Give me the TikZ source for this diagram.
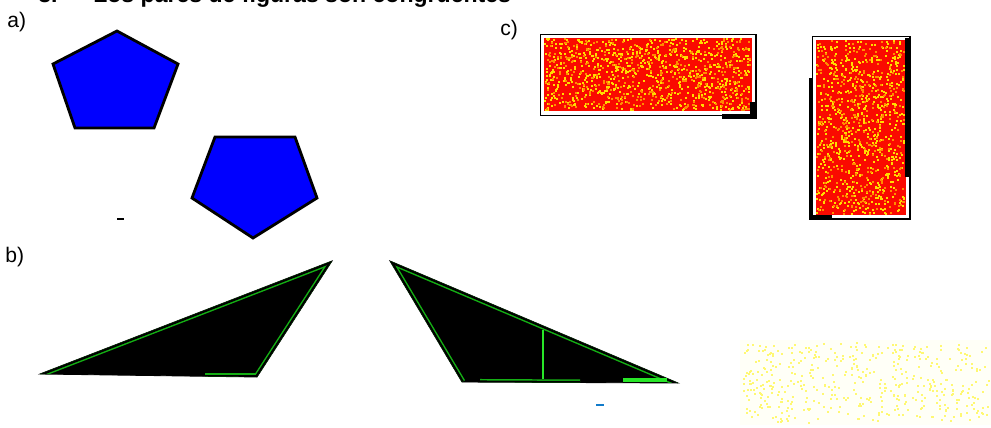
\documentclass[tikz,border=0pt]{standalone}
\usepackage{fontspec}
\setmainfont{Liberation Sans}
\definecolor{pentblue}{RGB}{0,0,255}
\definecolor{rectred}{RGB}{250,10,0}
\definecolor{speck}{RGB}{255,220,0}
\definecolor{speckorange}{RGB}{255,140,0}
\definecolor{trigreen}{RGB}{20,175,20}
\definecolor{brightgreen}{RGB}{40,230,40}
\begin{document}
\begin{tikzpicture}[x=0.025cm,y=-0.025cm,
  lbl/.style={font=\fontsize{15}{18}\selectfont, anchor=base west, inner sep=0},
  titlefont/.style={font=\bfseries\fontsize{16.4}{20}\selectfont, anchor=base west, inner sep=0},
  pent/.style={fill=pentblue, draw=black, line width=2pt, line join=miter},
  rectout/.style={draw=black, line width=1pt},
  tri/.style={fill=black, draw=black, line width=0.6pt, line join=miter},
  greenband/.style={draw=trigreen, line width=5pt},
  blackband/.style={draw=black, line width=2.9pt}]
\useasboundingbox (0,0) rectangle (991,427);
\clip (0,0) rectangle (991,427);

% title line (cut off at the top, as in the reference)
\node[titlefont] (num) at (38,3) {3.};
\node[titlefont] (title) at (93,3) {Los pares de figuras son congruentes};

% labels
\node[lbl] (la) at (7,28) {a)};
\node[lbl] (lb) at (5,262) {b)};
\node[lbl] (lc) at (500,36) {c)};

% a) pentagons
\draw[pent] (117,31) -- (178,64) -- (154,128) -- (75,128) -- (53,64) -- cycle;
\draw[pent] (215,137) -- (295,137) -- (317,198) -- (253,238) -- (192,198) -- cycle;
\draw[line width=1.2pt] (117,219) -- (124,219);

% c) rectangles
\fill[rectred] (544,38) rectangle (752,111);
\fill[rectred] (816,40) rectangle (906,215);
\pgfmathsetseed{11}
\foreach \i in {1,...,700}{
  \pgfmathsetmacro{\rx}{544+rnd*206}
  \pgfmathsetmacro{\ry}{38+rnd*71}
  \fill[speck] (\rx,\ry) rectangle ++(2,2);
}
\foreach \i in {1,...,400}{
  \pgfmathsetmacro{\rx}{544+rnd*206}
  \pgfmathsetmacro{\ry}{38+rnd*71}
  \fill[speckorange] (\rx,\ry) rectangle ++(2,2);
}
\foreach \i in {1,...,620}{
  \pgfmathsetmacro{\rx}{816+rnd*88}
  \pgfmathsetmacro{\ry}{40+rnd*173}
  \fill[speck] (\rx,\ry) rectangle ++(2,2);
}
\foreach \i in {1,...,350}{
  \pgfmathsetmacro{\rx}{816+rnd*88}
  \pgfmathsetmacro{\ry}{40+rnd*173}
  \fill[speckorange] (\rx,\ry) rectangle ++(2,2);
}
\draw[rectout] (540.5,34.5) rectangle (756,115.5);
\fill (722,114) rectangle (757,119);
\fill (750,102) rectangle (757,119);
\draw[rectout] (812.5,36.5) rectangle (910,219);
\fill (905,38) rectangle (911,177);
\fill (809,78) rectangle (813,220);
\fill (812,215) rectangle (832,220);

% b) triangles
\draw[tri] (40,374) -- (257,377) -- (332,261) -- cycle;
\begin{scope}
  \clip (40,374) -- (257,377) -- (332,261) -- cycle;
  \draw[greenband] (40,374) -- (332,261);
  \draw[greenband] (332,261) -- (257,377);
  \draw[greenband] (205,377) -- (257,377);
  \draw[blackband] (40,374) -- (332,261);
  \draw[blackband] (332,261) -- (257,377);
  \draw[blackband] (205,377) -- (257,377);
\end{scope}

\draw[tri] (390,261) -- (462,382) -- (678,383) -- cycle;
\begin{scope}
  \clip (390,261) -- (462,382) -- (678,383) -- cycle;
  \draw[greenband] (390,261) -- (462,382);
  \draw[greenband] (390,261) -- (678,383);
  \draw[greenband] (480,382.5) -- (580,383);
  \draw[blackband] (390,261) -- (462,382);
  \draw[blackband] (390,261) -- (678,383);
  \draw[blackband] (480,382.5) -- (580,383);
  \fill[brightgreen] (623,378) rectangle (667,382);
  \draw[brightgreen, line width=1.1pt] (543,330) -- (543,379);
\end{scope}
\draw[cyan!60!blue, line width=1.4pt] (596,405) -- (604,405);

% faint yellow patch
\fill[yellow!3] (740,340) rectangle (991,425);
\foreach \i in {1,...,450}{
  \pgfmathsetmacro{\rx}{742+rnd*246}
  \pgfmathsetmacro{\ry}{342+rnd*80}
  \fill[yellow!55] (\rx,\ry) rectangle ++(2,2);
}
\end{tikzpicture}
\end{document}
